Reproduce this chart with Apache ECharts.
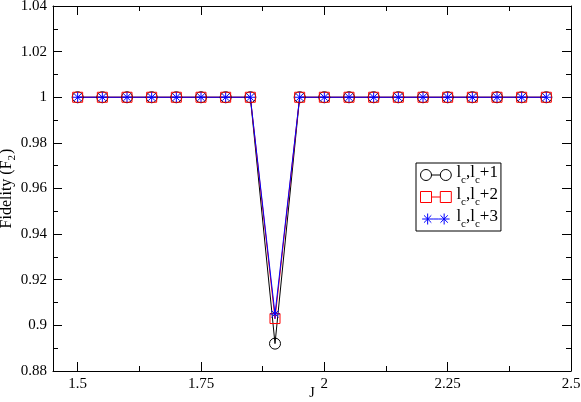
<!DOCTYPE html>
<html>
<head>
<meta charset="utf-8">
<script src="https://cdn.jsdelivr.net/npm/echarts@6/dist/echarts.min.js"></script>
<style>
  html, body { margin: 0; padding: 0; background: #fff; }
  #chart { width: 581px; height: 402px; }
</style>
</head>
<body>
<div id="chart"></div>
<script>
// J values and fidelity curves
const jValues = [1.5, 1.55, 1.6, 1.65, 1.7, 1.75, 1.8, 1.85, 1.9, 1.95,
  2.0, 2.05, 2.1, 2.15, 2.2, 2.25, 2.3, 2.35, 2.4, 2.45]
const fidPlus1 = [1, 1, 1, 1, 1, 1, 1, 1, 0.892, 1, 1, 1, 1, 1, 1, 1, 1, 1, 1, 1]
const fidPlus2 = [1, 1, 1, 1, 1, 1, 1, 1, 0.903, 1, 1, 1, 1, 1, 1, 1, 1, 1, 1, 1]
const fidPlus3 = [1, 1, 1, 1, 1, 1, 1, 1, 0.905, 1, 1, 1, 1, 1, 1, 1, 1, 1, 1, 1]
const xMajorTicks = [1.5, 1.75, 2, 2.25, 2.5]
const xMinorTicks = [1.625, 1.875, 2.125, 2.375]
const seriesNames = ['lc,lc+1', 'lc,lc+2', 'lc,lc+3']
const legendLabels = {
  'lc,lc+1': '{n|l}{s|c}{n|,l}{s|c}{n|+1}',
  'lc,lc+2': '{n|l}{s|c}{n|,l}{s|c}{n|+2}',
  'lc,lc+3': '{n|l}{s|c}{n|,l}{s|c}{n|+3}'
}

const font = "'Liberation Serif', 'Times New Roman', serif"
const pairs = vals => jValues.map((j, i) => [j, vals[i]])

const starPath = 'path://M5,0 L5,10 M0,5 L10,5 M1.5,1.5 L8.5,8.5 M8.5,1.5 L1.5,8.5'
const iconCircles = 'path://M1,6 A5,5 0 1,1 11,6 A5,5 0 1,1 1,6 Z M11,6 L19,6 M19,6 A5,5 0 1,1 29,6 A5,5 0 1,1 19,6 Z'
const iconSquares = 'path://M1,1 L11,1 L11,11 L1,11 Z M11,6 L19,6 M19,1 L29,1 L29,11 L19,11 Z'
const iconStars = 'path://M6,0 L6,12 M0,6 L12,6 M2,2 L10,10 M10,2 L2,10 M12,6 L18,6 M24,0 L24,12 M18,6 L30,6 M20,2 L28,10 M28,2 L20,10'

const tickRich = { t: { fontFamily: font, fontSize: 15, color: '#000' } }

function xAxis (position, values, len, show) {
  return {
    type: 'value',
    position: position,
    min: 1.45,
    max: 2.5,
    axisLine: { show: show, onZero: false, lineStyle: { color: '#000', width: 1 } },
    splitLine: { show: false },
    axisTick: { inside: true, length: len, customValues: values, lineStyle: { color: '#000' } },
    axisLabel: {
      show: show && position === 'bottom',
      customValues: xMajorTicks,
      margin: 6,
      formatter: v => '{t|' + v + '}',
      rich: tickRich
    }
  }
}

function yAxis (position) {
  return {
    type: 'value',
    position: position,
    min: 0.88,
    max: 1.04,
    interval: 0.02,
    axisLine: { show: true, onZero: false, lineStyle: { color: '#000', width: 1 } },
    splitLine: { show: false },
    axisTick: { inside: true, length: 9, lineStyle: { color: '#000' } },
    minorTick: { show: true, splitNumber: 2, length: 5, lineStyle: { color: '#000' } },
    axisLabel: {
      show: position === 'left',
      margin: 6,
      formatter: v => '{t|' + (+v.toFixed(2)) + '}',
      rich: tickRich
    }
  }
}

const chart = echarts.init(document.getElementById('chart'))
const bottomAxis = xAxis('bottom', xMajorTicks, 9, true)
bottomAxis.name = 'J'
bottomAxis.nameLocation = 'middle'
bottomAxis.nameGap = 15
bottomAxis.nameMoveOverlap = false
bottomAxis.nameTextStyle = { color: '#000', fontFamily: font, fontSize: 14 }

const leftAxis = yAxis('left')
leftAxis.name = '{n|Fidelity (F}{s|2}{n|)}'
leftAxis.nameLocation = 'middle'
leftAxis.nameRotate = 90
leftAxis.nameGap = 35
leftAxis.nameMoveOverlap = false
leftAxis.nameTextStyle = {
  color: '#000',
  rich: {
    n: { fontFamily: font, fontSize: 16, color: '#000', lineHeight: 19, verticalAlign: 'top' },
    s: { fontFamily: font, fontSize: 11, color: '#000', lineHeight: 13, verticalAlign: 'bottom', padding: [0, 1, 0, 0] }
  }
}

chart.setOption({
  animation: false,
  backgroundColor: '#fff',
  textStyle: { fontFamily: font },
  grid: { left: 53, right: 10, top: 6, bottom: 31, containLabel: false, outerBoundsMode: 'none' },
  xAxis: [
    bottomAxis,
    xAxis('bottom', xMinorTicks, 5, false),
    xAxis('top', xMajorTicks, 9, true),
    xAxis('top', xMinorTicks, 5, false)
  ],
  yAxis: [leftAxis, yAxis('right')],
  legend: {
    orient: 'vertical',
    left: 416,
    top: 163,
    padding: [1, 3, 1, 4],
    itemWidth: 31,
    itemHeight: 11,
    itemGap: 0,
    borderColor: '#000',
    borderWidth: 1,
    backgroundColor: '#fff',
    formatter: name => legendLabels[name],
    textStyle: {
      color: '#000',
      rich: {
        n: { fontFamily: font, fontSize: 17, color: '#000', lineHeight: 22, verticalAlign: 'top' },
        s: { fontFamily: font, fontSize: 11, color: '#000', lineHeight: 14, verticalAlign: 'bottom' }
      }
    },
    data: [
      { name: seriesNames[0], icon: iconCircles, itemStyle: { color: 'transparent', borderColor: '#000', borderWidth: 1 } },
      { name: seriesNames[1], icon: iconSquares, itemStyle: { color: 'transparent', borderColor: '#f00', borderWidth: 1 } },
      { name: seriesNames[2], icon: iconStars, itemStyle: { color: 'transparent', borderColor: '#00f', borderWidth: 1 } }
    ]
  },
  series: [
    {
      name: seriesNames[0],
      type: 'line',
      data: pairs(fidPlus1),
      symbol: 'circle',
      symbolSize: 11,
      lineStyle: { color: '#000', width: 1 },
      itemStyle: { color: 'transparent', borderColor: '#000', borderWidth: 1 }
    },
    {
      name: seriesNames[1],
      type: 'line',
      data: pairs(fidPlus2),
      symbol: 'rect',
      symbolSize: 10,
      lineStyle: { color: '#f00', width: 1 },
      itemStyle: { color: 'transparent', borderColor: '#f00', borderWidth: 1 }
    },
    {
      name: seriesNames[2],
      type: 'line',
      data: pairs(fidPlus3),
      symbol: starPath,
      symbolSize: 10,
      lineStyle: { color: '#00f', width: 1 },
      itemStyle: { color: 'transparent', borderColor: '#00f', borderWidth: 1 }
    }
  ]
})
</script>
</body>
</html>
